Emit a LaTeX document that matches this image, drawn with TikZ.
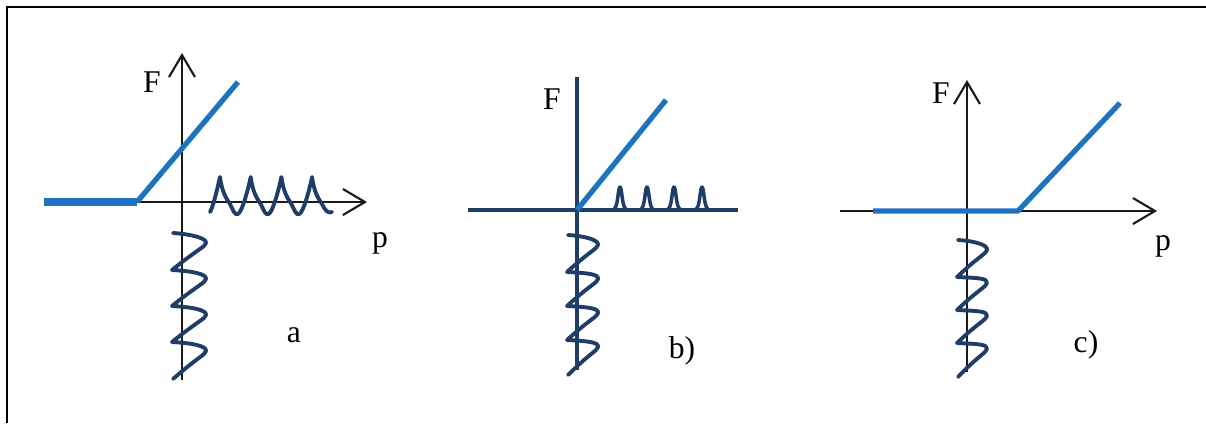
\documentclass[tikz,border=0pt]{standalone}
\usepackage{fontspec}
\setmainfont{Liberation Serif}
\usetikzlibrary{arrows.meta}
\definecolor{lineblue}{HTML}{1E73BE}
\definecolor{springnavy}{HTML}{1F3D66}
\tikzset{
  frameline/.style={line width=0.7pt, black},
  axis/.style={line width=0.6pt, black!90, -{Straight Barb[length=2.2mm, width=2.6mm]}},
  navyaxis/.style={springnavy, line width=1pt},
  response/.style={lineblue, line width=1.5pt, line join=round},
  spring/.style={springnavy, line width=1.1pt, line cap=round, line join=round},
  lbl/.style={inner sep=0pt, font=\fontsize{9}{10}\selectfont}
}
\begin{document}
\begin{tikzpicture}[x=0.1mm, y=-0.1mm]
\useasboundingbox (0,0) rectangle (1206,423);
\draw[frameline] (1206,7) -- (7,7) -- (7,423);

% panel a
\draw[axis] (182,380) -- (182,53);
\draw[axis] (137,202) -- (367,202);
\draw[response, line width=2pt] (44,202) -- (137,202);
\draw[response] (137,202) -- (238,82);
\draw[spring] (210,212) .. controls (214,205) and (218,185) .. (220,177)
  \foreach \k [evaluate=\k as \X using {220+30.7*\k}] in {0,1,2} {
    .. controls ({\X+2},192) and ({\X+6},198) .. ({\X+10},204)
    .. controls ({\X+13},210) and ({\X+15},216) .. ({\X+18},214)
    .. controls ({\X+22},212) and ({\X+28},190) .. ({\X+30.7},177)
  }
  .. controls (314,192) and (318,198) .. (322,204)
  .. controls (325,210) and (328,214) .. (332,212);
\node[lbl] (Fa) at (152,82) {F};
\node[lbl] (pa) at (380,243) {p};
\node[lbl] (laba) at (294,335) {a};

% panel b
\draw[navyaxis] (577,370) -- (577,77);
\draw[navyaxis, line width=1.2pt] (468,210) -- (738,210);
\draw[response] (577,210) -- (666,100);
\foreach \X in {620,647,674,702}
  \draw[spring, line width=1pt] ({\X-6},209) .. controls ({\X-2},208) and ({\X-2},187) .. (\X,187)
    .. controls ({\X+2},187) and ({\X+2},208) .. ({\X+6},209);
\node[lbl] (Fb) at (552,99) {F};
\node[lbl] (labb) at (682,351) {b)};

% panel c
\draw[axis] (967,372) -- (967,80);
\draw[axis] (840,211) -- (1157,211);
\draw[response] (873,211) -- (1018,211) -- (1120,103);
\node[lbl] (Fc) at (941,93) {F};
\node[lbl] (pc) at (1163,246) {p};
\node[lbl] (labc) at (1086,345) {c)};

% vertical springs
\foreach \ax/\ys/\bx/\sp in {182/243/24/36, 577/245/21/34, 967/250/20/33}
  \draw[spring] ({\ax-9},{\ys-10}) .. controls ({\ax+8},{\ys-9}) and ({\ax+\bx+1},{\ys-5}) .. ({\ax+\bx},\ys)
    \foreach \k [evaluate=\k as \yb using {\ys+\sp*\k}] in {0,1,2} {
      .. controls ({\ax+\bx-1},{\yb+4}) and ({\ax+\bx-8},{\yb+6}) .. ({\ax-10},{\yb+27})
      .. controls ({\ax+10},{\yb+28}) and ({\ax+\bx+1},{\yb+\sp-5}) .. ({\ax+\bx},{\yb+\sp})
    }
    .. controls ({\ax+\bx-1},{\ys+3*\sp+4}) and ({\ax+\bx-8},{\ys+3*\sp+6}) .. ({\ax-9},{\ys+3*\sp+28});
\end{tikzpicture}
\end{document}
